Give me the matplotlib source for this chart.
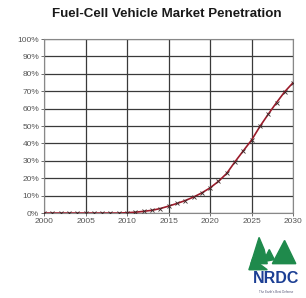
import numpy as np
import matplotlib.pyplot as plt
from matplotlib.patches import Polygon

plt.rcParams['font.family'] = ['Liberation Sans', 'DejaVu Sans']

years = list(range(2000, 2031))
share = [0, 0, 0, 0, 0, 0, 0, 0, 0, 0, 0.2,
         0.5, 1.0, 1.6, 2.6, 4.0, 5.5, 7.2, 9.2, 11.6, 14.5,
         18.2, 22.8, 29.5, 35.8, 42.0, 49.8, 56.8, 63.5, 69.8, 75.0]
ytick_vals = list(range(0, 101, 10))
ytick_labels = [f"{v}%" for v in ytick_vals]
xtick_vals = list(range(2000, 2031, 5))

fig = plt.figure(figsize=(3.06, 2.98), dpi=100)
ax = fig.add_axes([0.144, 0.285, 0.814, 0.584])

ax.plot(years, share, color='#9b1b2a', lw=1.2, marker='x', ms=2.5,
        mec='#3a2a2a', mew=0.6, zorder=3)

ax.set_xlim(2000, 2030)
ax.set_ylim(0, 100)
ax.set_xticks(xtick_vals)
ax.set_yticks(ytick_vals)
ax.set_yticklabels(ytick_labels)
ax.grid(True, color='#3a3a3a', lw=0.9)
ax.set_axisbelow(True)
for s in ax.spines.values():
    s.set_color('#888888')
    s.set_linewidth(0.8)
ax.tick_params(labelsize=6, colors='#555555', length=2, width=0.6, pad=1.5)

fig.text(0.545, 0.954, "Fuel-Cell Vehicle Market Penetration", ha='center',
         va='center', fontsize=9.6, fontweight='bold', color='#1a1a1a')

# NRDC logo (rough sketch)
lax = fig.add_axes([0.8, 0.0, 0.2, 0.21])
lax.set_xlim(0, 60)
lax.set_ylim(0, 62)
lax.axis('off')
green = '#1f8a4c'
lax.add_patch(Polygon([[6, 34], [14, 60], [19, 48], [22, 34]], closed=True, color=green))
lax.add_patch(Polygon([[18, 36], [24, 48], [29, 38]], closed=True, color=green))
lax.add_patch(Polygon([[27, 34], [39, 57], [50, 34]], closed=True, color=green))
lax.add_patch(Polygon([[4, 28], [8, 40], [14, 34], [22, 28]], closed=True, color=green))
lax.text(31, 19, "NRDC", ha='center', va='center', fontsize=11.5,
         fontweight='bold', color='#1c3f94')
lax.text(31, 6, "The Earth's Best Defense", ha='center', va='center',
         fontsize=2.2, color='#555577')

fig.savefig("out.png", dpi=100)
